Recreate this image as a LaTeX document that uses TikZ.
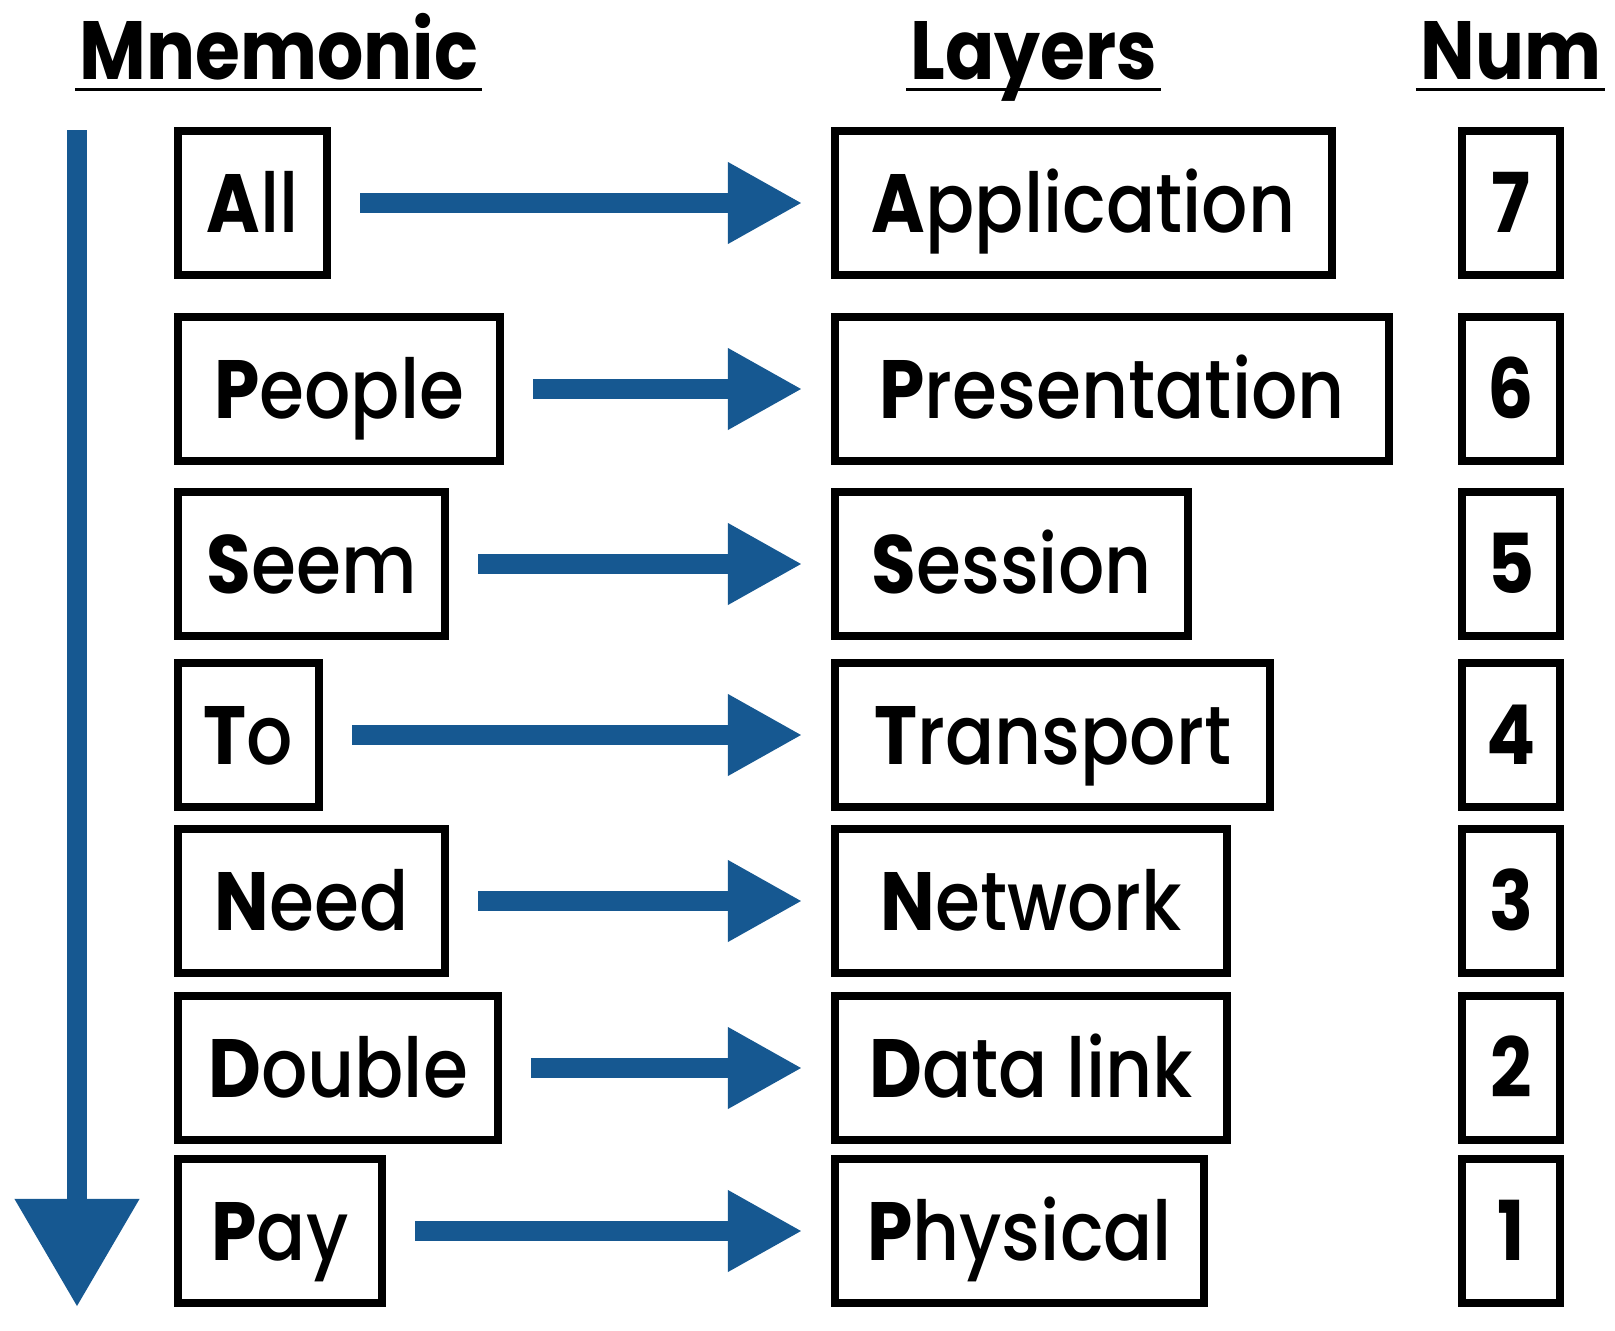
\documentclass[tikz,border=0pt]{standalone}
\usepackage{fontspec}
\setmainfont{Poppins}[UprightFont=* Medium, BoldFont=* Bold, FakeStretch=0.88]
\usepackage{tikz}
\usetikzlibrary{arrows.meta}
\definecolor{osiblue}{RGB}{22,88,145}
\newcommand{\ini}[1]{\textbf{#1}}
\tikzstyle{box} = [draw, rectangle, line width=0.08cm, inner sep=0pt,
    minimum height=1.44cm, text height=0.58cm, text depth=0pt,
    font=\fontsize{23.5}{24}\selectfont]
\tikzstyle{word} = [box, anchor=west]
\tikzstyle{layer} = [box, anchor=west]
\tikzstyle{num} = [box, minimum width=0.98cm, font=\fontsize{23.5}{24}\selectfont\bfseries]
\tikzstyle{head} = [inner sep=0pt, anchor=base, font=\fontsize{23.5}{24}\selectfont\bfseries]
\tikzstyle{link} = [osiblue, line width=0.2cm,
    -{Triangle[length=0.73cm, width=0.82cm, line width=0pt]},
    shorten <=0.29cm, shorten >=0.30cm]

\begin{document}
\begin{tikzpicture}[x=0.01cm, y=-0.01cm]
        \useasboundingbox (0,0) rectangle (1615,1330);

        \node[head] (mnem) at (279,80) {Mnemonic};
        \node[head] (lay) at (1034,80) {Layers};
        \node[head] (numh) at (1511,80) {Num};
        \foreach \h in {mnem, lay, numh}
            \draw[line width=0.035cm] ([shift={(-4,9.5)}]\h.base west) -- ([shift={(3,9.5)}]\h.base east);

        \node[word, minimum width=1.49cm] (all) at (174,203) {\ini{A}ll};
        \node[word, minimum width=3.22cm] (people) at (174,389) {\ini{P}eople};
        \node[word, minimum width=2.67cm] (seem) at (174,564) {\ini{S}eem};
        \node[word, minimum width=1.41cm] (to) at (174,735) {\ini{T}o};
        \node[word, minimum width=2.67cm] (need) at (174,901) {\ini{N}eed};
        \node[word, minimum width=3.20cm] (double) at (174,1068) {\ini{D}ouble};
        \node[word, minimum width=2.04cm] (pay) at (174,1231) {\ini{P}ay};

        \node[layer, minimum width=4.97cm] (app) at (831,203) {\ini{A}pplication};
        \node[layer, minimum width=5.54cm] (pres) at (831,389) {\ini{P}resentation};
        \node[layer, minimum width=3.53cm] (sess) at (831,564) {\ini{S}ession};
        \node[layer, minimum width=4.35cm] (trans) at (831,735) {\ini{T}ransport};
        \node[layer, minimum width=3.92cm] (net) at (831,901) {\ini{N}etwork};
        \node[layer, minimum width=3.92cm] (data) at (831,1068) {\ini{D}ata link};
        \node[layer, minimum width=3.69cm] (phys) at (831,1231) {\ini{P}hysical};

        \node[num] (n7) at (1511,203) {7};
        \node[num] (n6) at (1511,389) {6};
        \node[num] (n5) at (1511,564) {5};
        \node[num] (n4) at (1511,735) {4};
        \node[num] (n3) at (1511,901) {3};
        \node[num] (n2) at (1511,1068) {2};
        \node[num] (n1) at (1511,1231) {1};

        \draw[link] (all) -- (app);
        \draw[link] (people) -- (pres);
        \draw[link] (seem) -- (sess);
        \draw[link] (to) -- (trans);
        \draw[link] (need) -- (net);
        \draw[link] (double) -- (data);
        \draw[link] (pay) -- (phys);

        % top to bottom
        \coordinate (top) at (77,130);
        \coordinate (bottom) at (77,1306);
        \draw[osiblue, line width=0.2cm,
            -{Triangle[length=1.07cm, width=1.25cm, line width=0pt]}] (top) -- (bottom);
    \end{tikzpicture}
\end{document}
